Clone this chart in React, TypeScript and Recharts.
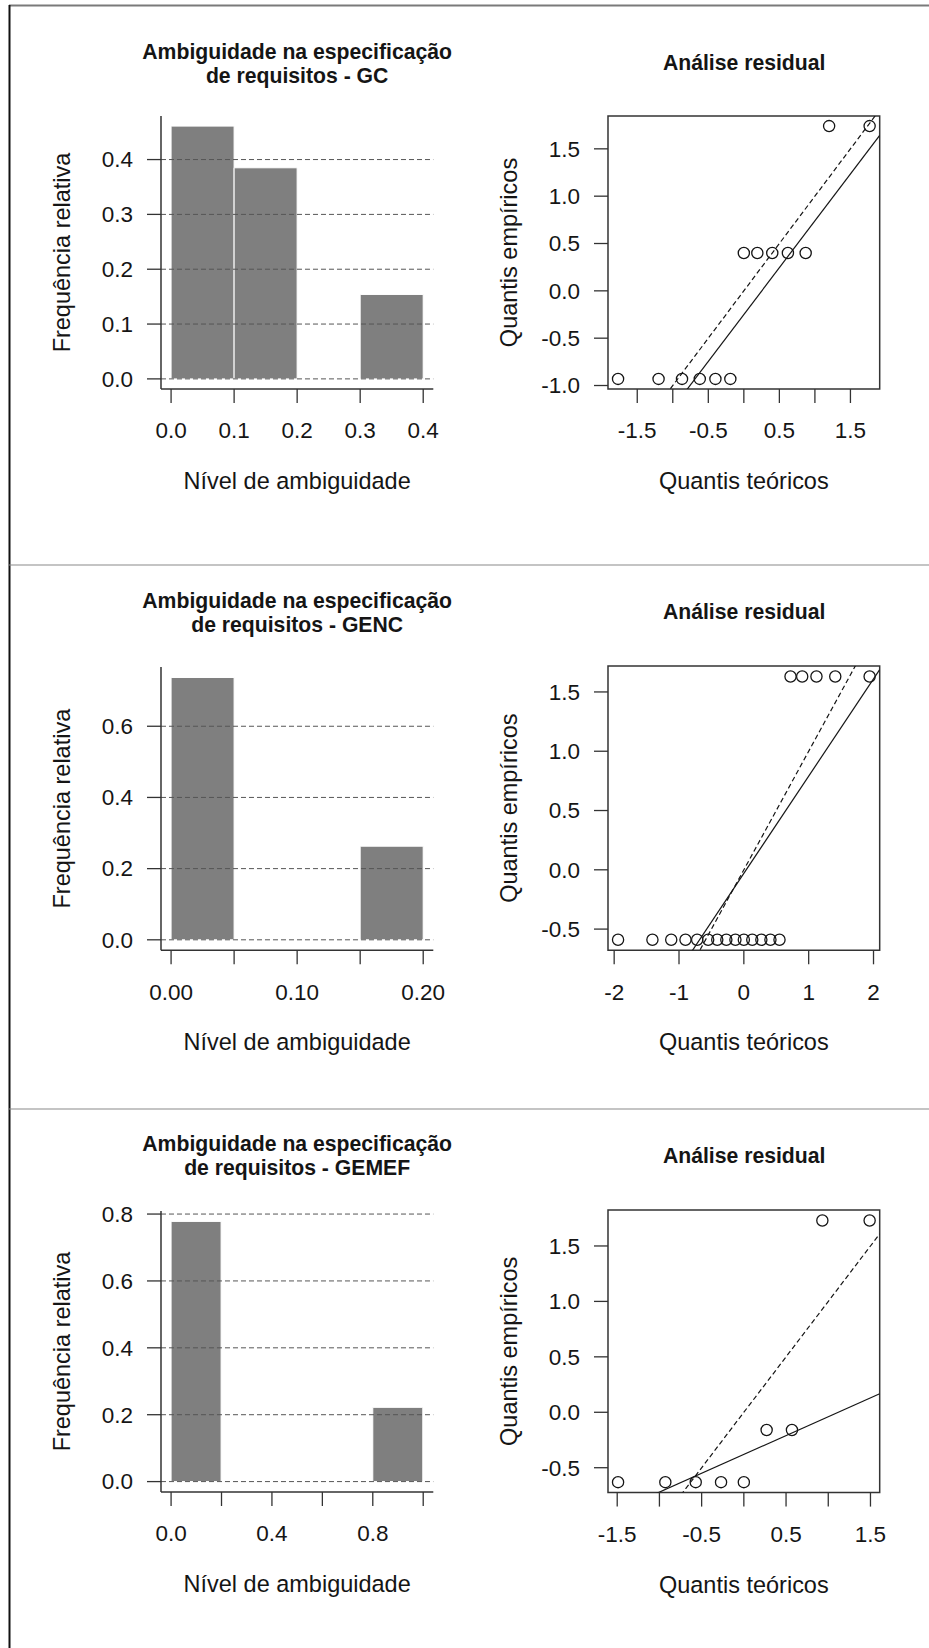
import React from 'react';
import {
  ComposedChart,
  ScatterChart,
  Bar,
  Scatter,
  XAxis,
  YAxis,
  ReferenceLine,
  ReferenceArea,
} from 'recharts';

const FONT = '"Liberation Sans", Arial, Helvetica, sans-serif';
const INK = '#151515';
const AXIS = '#333333';
const BAR_FILL = '#7f7f7f';
const GRID = '#555555';

const TICK_FS = 22.5;
const LABEL_FS = 23.5;
const TITLE_FS = 21.2;

const LEFT_ROOM = 130;
const BOTTOM_ROOM = 120;
const RIGHT_ROOM = 40;
const PAD = 10;

const GROUPS = ['GC', 'GENC', 'GEMEF'];
const HIST_TITLE = 'Ambiguidade na especificação';
const QQ_TITLE = 'Análise residual';

// histograms: bin breaks and relative frequency of each bin
const GC_BREAKS = [0, 0.1, 0.2, 0.3, 0.4];
const GC_FREQ = [0.461, 0.385, 0, 0.154];
const GC_HIST_XTICKS = [0, 0.1, 0.2, 0.3, 0.4];
const GC_HIST_XLABELS = [0, 0.1, 0.2, 0.3, 0.4];
const GC_HIST_YTICKS = [0, 0.1, 0.2, 0.3, 0.4];

const GENC_BREAKS = [0, 0.05, 0.1, 0.15, 0.2];
const GENC_FREQ = [0.737, 0, 0, 0.263];
const GENC_HIST_XTICKS = [0, 0.05, 0.1, 0.15, 0.2];
const GENC_HIST_XLABELS = [0, 0.1, 0.2];
const GENC_HIST_YTICKS = [0, 0.2, 0.4, 0.6];

const GEMEF_BREAKS = [0, 0.2, 0.4, 0.6, 0.8, 1];
const GEMEF_FREQ = [0.778, 0, 0, 0, 0.222];
const GEMEF_HIST_XTICKS = [0, 0.2, 0.4, 0.6, 0.8, 1];
const GEMEF_HIST_XLABELS = [0, 0.4, 0.8];
const GEMEF_HIST_YTICKS = [0, 0.2, 0.4, 0.6, 0.8];

// normal QQ plots: theoretical vs empirical quantiles
const GC_QQ_THEO = [-1.77, -1.2, -0.87, -0.62, -0.4, -0.19, 0, 0.19, 0.4, 0.62, 0.87, 1.2, 1.77];
const GC_QQ_EMP = [-0.93, -0.93, -0.93, -0.93, -0.93, -0.93, 0.4, 0.4, 0.4, 0.4, 0.4, 1.74, 1.74];
const GC_QQ_FIT = [-0.25, 0.99]; // intercept, slope
const GC_QQ_XTICKS = [-1.5, -1, -0.5, 0, 0.5, 1, 1.5];
const GC_QQ_XLABELS = [-1.5, -0.5, 0.5, 1.5];
const GC_QQ_YTICKS = [-1, -0.5, 0, 0.5, 1, 1.5];

const GENC_QQ_THEO = [
  -1.94, -1.41, -1.12, -0.9, -0.72, -0.55, -0.41, -0.27, -0.13, 0, 0.13, 0.27, 0.41, 0.55,
  0.72, 0.9, 1.12, 1.41, 1.94,
];
const GENC_QQ_EMP = [
  -0.59, -0.59, -0.59, -0.59, -0.59, -0.59, -0.59, -0.59, -0.59, -0.59, -0.59, -0.59, -0.59,
  -0.59, 1.63, 1.63, 1.63, 1.63, 1.63,
];
const GENC_QQ_FIT = [-0.03, 0.82];
const GENC_QQ_XTICKS = [-2, -1, 0, 1, 2];
const GENC_QQ_XLABELS = [-2, -1, 0, 1, 2];
const GENC_QQ_YTICKS = [-0.5, 0, 0.5, 1, 1.5];

const GEMEF_QQ_THEO = [-1.49, -0.93, -0.57, -0.27, 0, 0.27, 0.57, 0.93, 1.49];
const GEMEF_QQ_EMP = [-0.63, -0.63, -0.63, -0.63, -0.63, -0.16, -0.16, 1.73, 1.73];
const GEMEF_QQ_FIT = [-0.38, 0.34];
const GEMEF_QQ_XTICKS = [-1.5, -1, -0.5, 0, 0.5, 1, 1.5];
const GEMEF_QQ_XLABELS = [-1.5, -0.5, 0.5, 1.5];
const GEMEF_QQ_YTICKS = [-0.5, 0, 0.5, 1, 1.5];

const IDENTITY = [0, 1];

type Box = { left: number; top: number; width: number; height: number };

// plot regions on the page
const HIST_BOXES: Box[] = [
  { left: 161, top: 116, width: 272.3, height: 273 },
  { left: 161, top: 667, width: 272.3, height: 283.3 },
  { left: 161, top: 1211.3, width: 272.3, height: 281 },
];
const QQ_BOXES: Box[] = [
  { left: 608.3, top: 116, width: 271.7, height: 273 },
  { left: 608.3, top: 666, width: 271.7, height: 284.3 },
  { left: 608.3, top: 1209.7, width: 271.7, height: 282.6 },
];
const HIST_TITLE_Y = [
  [59, 82.5],
  [608, 632],
  [1151, 1175],
];
const QQ_TITLE_Y = [70, 619, 1163];

// R style 4% axis expansion
const expand = (lo: number, hi: number): [number, number] => {
  const r = hi - lo;
  return [lo - 0.04 * r, hi + 0.04 * r];
};

const has = (list: number[], v: number) => list.some((l) => Math.abs(l - v) < 1e-9);

const textStyle = { fontFamily: FONT, fill: INK };

const xTick = (plotBottom: number, labels: number[], digits: number) => (p: any) => {
  const v = p.payload.value;
  return (
    <g>
      <line x1={p.x} x2={p.x} y1={plotBottom} y2={plotBottom + 14} stroke={AXIS} strokeWidth={1.3} />
      {has(labels, v) && (
        <text x={p.x} y={plotBottom + 49.5} textAnchor="middle" fontSize={TICK_FS} {...textStyle}>
          {v.toFixed(digits)}
        </text>
      )}
    </g>
  );
};

const yTick = (digits: number) => (p: any) => {
  const v = p.payload.value;
  return (
    <g>
      <line x1={LEFT_ROOM - 14} x2={LEFT_ROOM} y1={p.y} y2={p.y} stroke={AXIS} strokeWidth={1.3} />
      <text x={LEFT_ROOM - 28} y={p.y} dy="0.35em" textAnchor="end" fontSize={TICK_FS} {...textStyle}>
        {v.toFixed(digits)}
      </text>
    </g>
  );
};

const xTitle = (box: Box, text: string) => () => (
  <text
    x={LEFT_ROOM + box.width / 2}
    y={PAD + box.height + 100}
    textAnchor="middle"
    fontSize={LABEL_FS}
    {...textStyle}
  >
    {text}
  </text>
);

const yTitle = (box: Box, text: string) => () => {
  const x = LEFT_ROOM - 91;
  const y = PAD + box.height / 2;
  return (
    <text x={x} y={y} transform={`rotate(-90, ${x}, ${y})`} textAnchor="middle" fontSize={LABEL_FS} {...textStyle}>
      {text}
    </text>
  );
};

const ring = (p: any) => (
  <circle cx={p.cx} cy={p.cy} r={5.6} fill="none" stroke={INK} strokeWidth={1.3} />
);

type HistProps = {
  box: Box;
  breaks: number[];
  freq: number[];
  xTicks: number[];
  xLabels: number[];
  xDigits: number;
  yTicks: number[];
};

function HistPanel({ box, breaks, freq, xTicks, xLabels, xDigits, yTicks }: HistProps) {
  const data = freq.map((f, i) => ({ mid: (breaks[i] + breaks[i + 1]) / 2, f }));
  const xDomain = expand(breaks[0], breaks[breaks.length - 1]);
  const yDomain = expand(0, Math.max(...freq));
  const plotBottom = PAD + box.height;

  return (
    <div style={{ position: 'absolute', left: box.left - LEFT_ROOM, top: box.top - PAD }}>
      <ComposedChart
        width={LEFT_ROOM + box.width + RIGHT_ROOM}
        height={PAD + box.height + BOTTOM_ROOM}
        data={data}
        margin={{ top: PAD, right: RIGHT_ROOM, bottom: 0, left: 0 }}
        barCategoryGap={0}
        barGap={0}
      >
        <XAxis
          type="number"
          dataKey="mid"
          domain={xDomain}
          ticks={xTicks}
          interval={0}
          allowDataOverflow
          height={BOTTOM_ROOM}
          tickLine={false}
          axisLine={{ stroke: AXIS, strokeWidth: 1.5 }}
          tick={xTick(plotBottom, xLabels, xDigits)}
          label={{ content: xTitle(box, 'Nível de ambiguidade') }}
        />
        <YAxis
          type="number"
          domain={yDomain}
          ticks={yTicks}
          interval={0}
          allowDataOverflow
          width={LEFT_ROOM}
          tickLine={false}
          axisLine={{ stroke: AXIS, strokeWidth: 1.5 }}
          tick={yTick(1)}
          label={{ content: yTitle(box, 'Frequência relativa') }}
        />
        <Bar dataKey="f" fill={BAR_FILL} stroke="#ffffff" strokeWidth={1} isAnimationActive={false} />
        {yTicks.map((t) => (
          <ReferenceLine key={t} y={t} stroke={GRID} strokeWidth={1} strokeDasharray="5 3" />
        ))}
      </ComposedChart>
    </div>
  );
}

type QQProps = {
  box: Box;
  theo: number[];
  emp: number[];
  fit: number[];
  xTicks: number[];
  xLabels: number[];
  xDigits: number;
  yTicks: number[];
};

function QQPanel({ box, theo, emp, fit, xTicks, xLabels, xDigits, yTicks }: QQProps) {
  const data = theo.map((q, i) => ({ q, v: emp[i] }));
  const xDomain = expand(Math.min(...theo), Math.max(...theo));
  const yDomain = expand(Math.min(...emp), Math.max(...emp));
  const plotBottom = PAD + box.height;
  const seg = ([a, b]: number[]) => [
    { x: xDomain[0], y: a + b * xDomain[0] },
    { x: xDomain[1], y: a + b * xDomain[1] },
  ];

  return (
    <div style={{ position: 'absolute', left: box.left - LEFT_ROOM, top: box.top - PAD }}>
      <ScatterChart
        width={LEFT_ROOM + box.width + RIGHT_ROOM}
        height={PAD + box.height + BOTTOM_ROOM}
        margin={{ top: PAD, right: RIGHT_ROOM, bottom: 0, left: 0 }}
      >
        <XAxis
          type="number"
          dataKey="q"
          domain={xDomain}
          ticks={xTicks}
          interval={0}
          allowDataOverflow
          height={BOTTOM_ROOM}
          tickLine={false}
          axisLine={false}
          tick={xTick(plotBottom, xLabels, xDigits)}
          label={{ content: xTitle(box, 'Quantis teóricos') }}
        />
        <YAxis
          type="number"
          dataKey="v"
          domain={yDomain}
          ticks={yTicks}
          interval={0}
          allowDataOverflow
          width={LEFT_ROOM}
          tickLine={false}
          axisLine={false}
          tick={yTick(1)}
          label={{ content: yTitle(box, 'Quantis empíricos') }}
        />
        <ReferenceArea
          x1={xDomain[0]}
          x2={xDomain[1]}
          y1={yDomain[0]}
          y2={yDomain[1]}
          fill="none"
          fillOpacity={0}
          stroke={AXIS}
          strokeWidth={1.5}
          ifOverflow="visible"
        />
        <ReferenceLine segment={seg(IDENTITY)} ifOverflow="hidden" stroke={INK} strokeWidth={1.2} strokeDasharray="5 3" />
        <ReferenceLine segment={seg(fit)} ifOverflow="hidden" stroke={INK} strokeWidth={1.2} />
        <Scatter data={data} shape={ring} isAnimationActive={false} />
      </ScatterChart>
    </div>
  );
}

export default function App() {
  return (
    <div
      style={{
        position: 'absolute',
        left: 0,
        top: 0,
        width: 929,
        height: 1648,
        background: '#ffffff',
        overflow: 'hidden',
      }}
    >
      <HistPanel box={HIST_BOXES[0]} breaks={GC_BREAKS} freq={GC_FREQ} xTicks={GC_HIST_XTICKS} xLabels={GC_HIST_XLABELS} xDigits={1} yTicks={GC_HIST_YTICKS} />
      <HistPanel box={HIST_BOXES[1]} breaks={GENC_BREAKS} freq={GENC_FREQ} xTicks={GENC_HIST_XTICKS} xLabels={GENC_HIST_XLABELS} xDigits={2} yTicks={GENC_HIST_YTICKS} />
      <HistPanel box={HIST_BOXES[2]} breaks={GEMEF_BREAKS} freq={GEMEF_FREQ} xTicks={GEMEF_HIST_XTICKS} xLabels={GEMEF_HIST_XLABELS} xDigits={1} yTicks={GEMEF_HIST_YTICKS} />

      <QQPanel box={QQ_BOXES[0]} theo={GC_QQ_THEO} emp={GC_QQ_EMP} fit={GC_QQ_FIT} xTicks={GC_QQ_XTICKS} xLabels={GC_QQ_XLABELS} xDigits={1} yTicks={GC_QQ_YTICKS} />
      <QQPanel box={QQ_BOXES[1]} theo={GENC_QQ_THEO} emp={GENC_QQ_EMP} fit={GENC_QQ_FIT} xTicks={GENC_QQ_XTICKS} xLabels={GENC_QQ_XLABELS} xDigits={0} yTicks={GENC_QQ_YTICKS} />
      <QQPanel box={QQ_BOXES[2]} theo={GEMEF_QQ_THEO} emp={GEMEF_QQ_EMP} fit={GEMEF_QQ_FIT} xTicks={GEMEF_QQ_XTICKS} xLabels={GEMEF_QQ_XLABELS} xDigits={1} yTicks={GEMEF_QQ_YTICKS} />

      {/* frame, row separators and panel titles */}
      <svg
        width={929}
        height={1648}
        style={{ position: 'absolute', left: 0, top: 0, pointerEvents: 'none' }}
      >
        <line x1={9} y1={5.5} x2={929} y2={5.5} stroke="#7a7a7a" strokeWidth={2} />
        <line x1={9.5} y1={5} x2={9.5} y2={1648} stroke="#111111" strokeWidth={2} />
        <line x1={9} y1={565} x2={929} y2={565} stroke="#8a8a8a" strokeWidth={1.2} />
        <line x1={9} y1={1109} x2={929} y2={1109} stroke="#8a8a8a" strokeWidth={1.2} />
        {GROUPS.map((g, i) => {
          const hb = HIST_BOXES[i];
          const qb = QQ_BOXES[i];
          return (
            <g key={g} fontFamily={FONT} fontWeight="bold" fontSize={TITLE_FS} fill={INK} textAnchor="middle">
              <text x={hb.left + hb.width / 2} y={HIST_TITLE_Y[i][0]}>{HIST_TITLE}</text>
              <text x={hb.left + hb.width / 2} y={HIST_TITLE_Y[i][1]}>{`de requisitos - ${g}`}</text>
              <text x={qb.left + qb.width / 2} y={QQ_TITLE_Y[i]}>{QQ_TITLE}</text>
            </g>
          );
        })}
      </svg>
    </div>
  );
}
